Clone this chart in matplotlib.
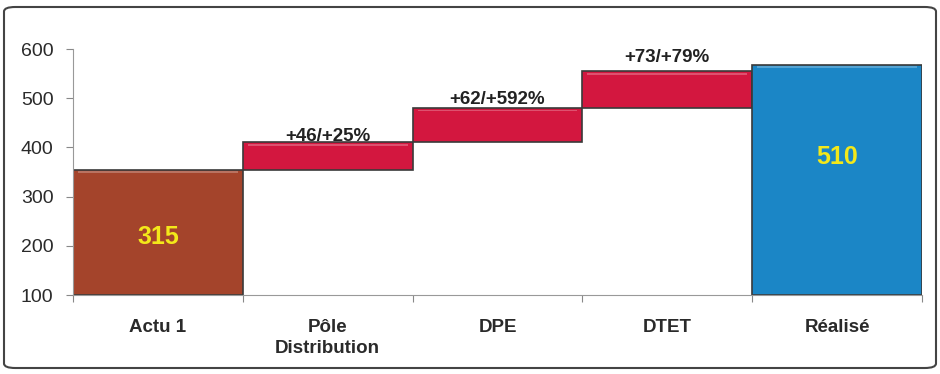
import matplotlib.pyplot as plt
from matplotlib.patches import FancyBboxPatch
import numpy as np

plt.rcParams['font.family'] = ['Liberation Sans', 'DejaVu Sans']

categories = ['Actu 1', 'Pôle\nDistribution', 'DPE', 'DTET', 'Réalisé']
bottoms = [100, 355, 410, 480, 100]
tops = [355, 410, 480, 555, 568]
inside_labels = ['315', None, None, None, '510']
delta_labels = [None, '+46/+25%', '+62/+592%', '+73/+79%', None]
colors = ['#a4442b', '#d3173f', '#d3173f', '#d3173f', '#1b86c6']

fig = plt.figure(figsize=(9.4, 3.74), dpi=100)
ax = fig.add_axes([73/940, 1 - 295/374, 849/940, 246/374])

x = np.arange(len(categories))
heights = np.array(tops) - np.array(bottoms)
ax.bar(x, heights, bottom=bottoms, width=1.0, color=colors,
       edgecolor='#3a3a3a', linewidth=1.2, zorder=2)
# light bevel strip along the top of each bar
for i in range(len(categories)):
    ax.bar(x[i], 4, bottom=tops[i] - 7, width=0.94, color='white', alpha=0.25,
           linewidth=0, zorder=3)

# value labels inside the two total bars
label_frac = [0.46, 0, 0, 0, 0.6]
for i, t in enumerate(inside_labels):
    if t:
        mid = bottoms[i] + heights[i] * label_frac[i]
        ax.text(x[i], mid, t, ha='center', va='center', color='#f3e81a',
                fontsize=18, fontweight='bold', zorder=4)
offsets = [0, -2, 0, 4, 0]
for i, t in enumerate(delta_labels):
    if t:
        ax.annotate(t, (x[i], tops[i]), xytext=(0, offsets[i]),
                    textcoords='offset points', ha='center', va='bottom',
                    color='#222222', fontsize=13.5, fontweight='bold', zorder=4)

ax.set_xlim(-0.5, 4.5)
ax.set_ylim(100, 600)
ax.set_yticks([100, 200, 300, 400, 500, 600])
ax.set_xticks(np.arange(-0.5, 5, 1.0))
ax.set_xticklabels([])
ax.set_xticks(x, minor=True)
ax.set_xticklabels(categories, minor=True, fontweight='bold', fontsize=13.5,
                   color='#2a2a2a', linespacing=1.3)
ax.tick_params(axis='x', which='minor', length=0, pad=17)
ax.tick_params(axis='x', which='major', length=5, color='#888888')
ax.tick_params(axis='y', length=5, color='#888888', labelsize=14,
               labelcolor='#2a2a2a', pad=9)
for s in ['top', 'right']:
    ax.spines[s].set_visible(False)
for s in ['left', 'bottom']:
    ax.spines[s].set_color('#999999')
ax.patch.set_alpha(0)

frame = FancyBboxPatch((4/940, 6/374), 932/940, 361/374,
                       boxstyle='round,pad=0,rounding_size=0.012',
                       transform=fig.transFigure, fill=False,
                       edgecolor='#444444', linewidth=1.5)
fig.patches.append(frame)

fig.savefig('out.png', dpi=100)
